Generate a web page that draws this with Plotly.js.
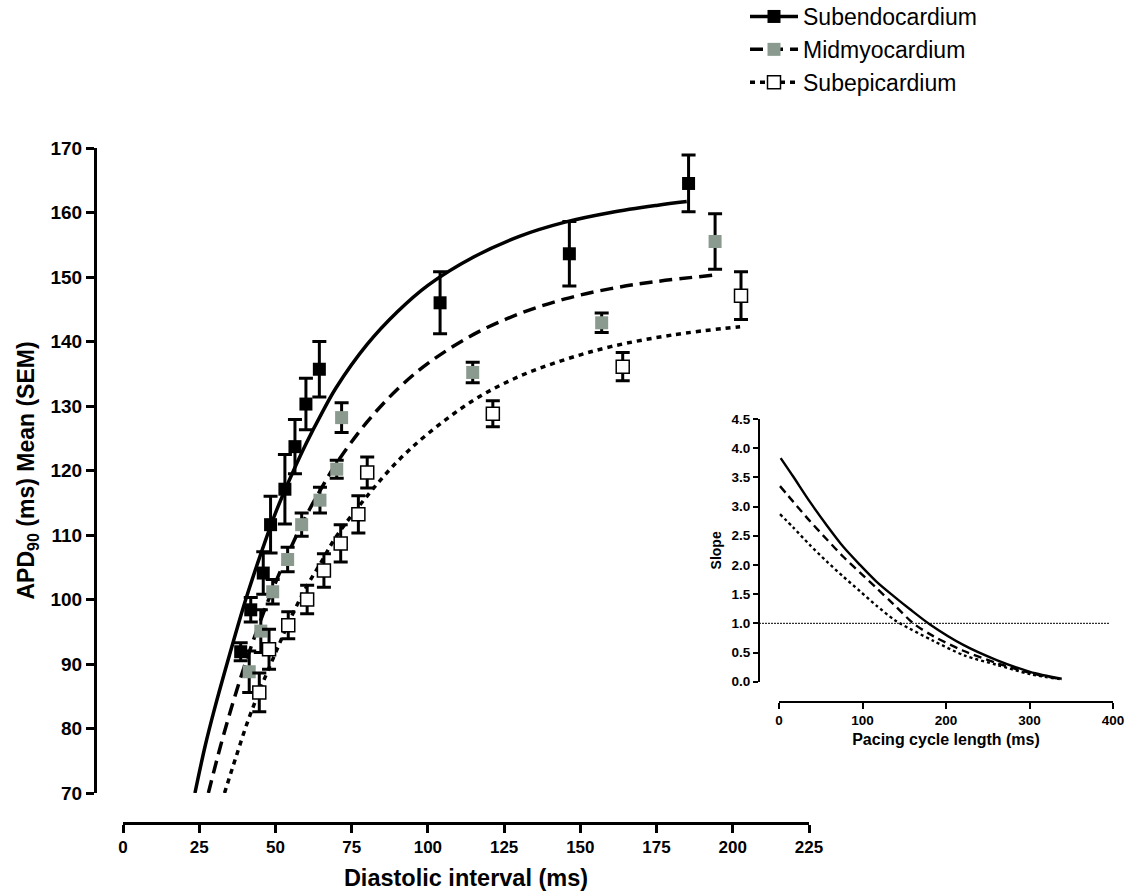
<!DOCTYPE html>
<html><head><meta charset="utf-8">
<script src="https://cdn.plot.ly/plotly-3.0.1.min.js"></script>
<style>html,body{margin:0;padding:0;background:#fff}#chart{width:1138px;height:895px}</style>
</head><body><div id="chart"></div>
<script>
// ---- Main panel: measured points (mean, SEM) ----
const endoDI  = [38.6, 41.9, 46.0, 48.4, 53.1, 56.4, 60.0, 64.4, 104.0, 146.4, 185.5];
const endoAPD = [91.9, 98.4, 104.1, 111.6, 117.1, 123.7, 130.3, 135.7, 146.0, 153.6, 164.5];
const endoSEM = [1.4, 1.9, 3.3, 4.4, 5.4, 4.2, 4.0, 4.3, 4.8, 5.0, 4.4];

const midDI  = [41.4, 45.2, 49.1, 54.0, 58.6, 64.6, 70.1, 71.7, 114.7, 157.0, 194.2];
const midAPD = [88.8, 95.1, 101.2, 106.2, 111.6, 115.4, 120.2, 128.2, 135.2, 142.9, 155.5];
const midSEM = [3.2, 3.3, 1.9, 1.9, 1.8, 2.0, 1.4, 2.3, 1.6, 1.5, 4.3];

const epiDI  = [44.7, 47.9, 54.2, 60.4, 65.9, 71.4, 77.2, 80.1, 121.3, 163.9, 202.7];
const epiAPD = [85.6, 92.3, 96.0, 100.0, 104.5, 108.7, 113.2, 119.7, 128.8, 136.1, 147.1];
const epiSEM = [3.0, 3.1, 2.1, 2.2, 2.6, 2.9, 2.9, 2.4, 2.0, 2.2, 3.7];

// ---- Main panel: fitted restitution curves ----
const endoFitDI  = [23.6, 27, 30, 35, 40, 45, 50, 55, 60, 65, 70, 80, 90, 100, 115, 130, 145, 160, 175, 184.9];
const endoFitAPD = [70, 77.4, 83.0, 91.5, 99.6, 106.8, 113.4, 119.0, 124.1, 128.7, 132.9, 139.5, 144.6, 148.7, 153.1, 156.3, 158.5, 160.0, 161.1, 161.7];
const midFitDI   = [28, 32, 36, 40, 45, 50, 55, 60, 65, 70, 80, 90, 100, 115, 130, 145, 160, 175, 194];
const midFitAPD  = [70, 77.3, 83.9, 89.9, 96.6, 102.6, 108.0, 112.9, 117.2, 121.1, 127.5, 132.6, 136.6, 141.1, 144.3, 146.6, 148.2, 149.3, 150.3];
const epiFitDI   = [33.3, 37, 41, 45, 50, 55, 60, 65, 70, 80, 90, 100, 115, 130, 145, 160, 180, 202.4];
const epiFitAPD  = [70, 75.5, 81.2, 86.1, 91.7, 97.1, 101.8, 105.8, 109.8, 116.0, 121.4, 125.7, 130.9, 134.6, 137.2, 139.2, 141.0, 142.3];

// ---- Inset: slope vs pacing cycle length ----
const endoPCL   = [2, 17.2, 37.1, 57.1, 77, 97, 117, 136.9, 156.9, 180.8, 220.7, 260.7, 300.6, 338.5];
const endoSlope = [3.83, 3.51, 3.08, 2.68, 2.31, 2.0, 1.71, 1.47, 1.24, 0.98, 0.63, 0.37, 0.17, 0.05];
const midPCL    = [1.2, 17.2, 37.1, 57.1, 77, 97, 117, 137, 160.8, 184.8, 220.7, 260.7, 300.6, 338.5];
const midSlope  = [3.35, 3.08, 2.75, 2.44, 2.14, 1.87, 1.60, 1.33, 1.0, 0.78, 0.53, 0.32, 0.15, 0.04];
const epiPCL    = [1.2, 17.2, 37.1, 57.1, 77, 97, 117, 137, 146, 184.8, 222, 260.7, 300.6, 338.5];
const epiSlope  = [2.87, 2.64, 2.34, 2.06, 1.80, 1.55, 1.30, 1.07, 0.99, 0.70, 0.45, 0.29, 0.13, 0.04];
const slopeThreshold = 1.0;

// ---- Labels ----
const seriesNames = ['Subendocardium', 'Midmyocardium', 'Subepicardium'];

const W = 1138, H = 895;
const px = v => v / W, py = v => 1 - v / H;

const BLACK = '#000000', GREY = '#8a9a8e', WHITE = '#ffffff';
const dashMain = ['solid', '13px,7px', '5px,5px'];
const dashInset = ['solid', '8px,5px', '3px,3px'];
const markerStyles = [
  {symbol: 'square', size: 13, color: BLACK, line: {color: BLACK, width: 0}},
  {symbol: 'square', size: 13, color: GREY, line: {color: GREY, width: 0}},
  {symbol: 'square', size: 13, color: WHITE, line: {color: BLACK, width: 1.5}}
];

const fits = [[endoFitDI, endoFitAPD], [midFitDI, midFitAPD], [epiFitDI, epiFitAPD]];
const pts = [[endoDI, endoAPD, endoSEM], [midDI, midAPD, midSEM], [epiDI, epiAPD, epiSEM]];
const inset = [[endoPCL, endoSlope], [midPCL, midSlope], [epiPCL, epiSlope]];

const traces = [];
fits.forEach((f, i) => traces.push({
  x: f[0], y: f[1], xaxis: 'x', yaxis: 'y', mode: 'lines', showlegend: false, hoverinfo: 'skip',
  line: {color: BLACK, width: 3.5, dash: dashMain[i], shape: 'spline', smoothing: 1}
}));
pts.forEach((p, i) => traces.push({
  x: p[0], y: p[1], xaxis: 'x', yaxis: 'y', mode: 'markers', showlegend: false, cliponaxis: false,
  marker: markerStyles[i],
  error_y: {type: 'data', array: p[2], visible: true, color: BLACK, thickness: 3, width: 7}
}));
seriesNames.forEach((n, i) => traces.push({
  x: [null], y: [null], xaxis: 'x', yaxis: 'y', mode: 'lines+markers', name: n, legendgroup: 'g' + i,
  line: {color: BLACK, width: 3.5, dash: dashMain[i]}, marker: markerStyles[i]
}));
inset.forEach((c, i) => traces.push({
  x: c[0], y: c[1], xaxis: 'x2', yaxis: 'y2', mode: 'lines', showlegend: false, hoverinfo: 'skip',
  line: {color: BLACK, width: 2.4, dash: dashInset[i], shape: 'spline', smoothing: 0.8}
}));

const FONT = 'Liberation Sans, Arial, sans-serif';
const insetFont = {family: FONT, size: 13.5, color: BLACK, weight: 'bold'};

const layout = {
  width: W, height: H,
  margin: {l: 0, r: 0, t: 0, b: 0, pad: 0, autoexpand: false},
  paper_bgcolor: WHITE, plot_bgcolor: 'rgba(0,0,0,0)',
  showlegend: true,
  legend: {
    x: px(745), y: py(-5), xanchor: 'left', yanchor: 'top',
    font: {family: FONT, size: 23, color: BLACK},
    traceorder: 'grouped', tracegroupgap: 0, itemwidth: 48,
    bgcolor: 'rgba(0,0,0,0)', borderwidth: 0
  },
  xaxis: {
    domain: [px(123), px(809)], range: [0, 225], anchor: 'free', position: py(823),
    tickmode: 'linear', tick0: 0, dtick: 25, ticks: 'outside', ticklen: 8, tickwidth: 3, tickcolor: BLACK,
    showline: true, linewidth: 3, linecolor: BLACK, showgrid: false, zeroline: false, automargin: false,
    tickfont: {family: FONT, size: 17, color: BLACK, weight: 'bold'},
    title: {text: 'Diastolic interval (ms)', font: {family: FONT, size: 23.5, color: BLACK, weight: 'bold'}, standoff: 13}
  },
  yaxis: {
    domain: [py(793), py(148)], range: [70, 170], anchor: 'free', position: px(95),
    tickmode: 'linear', tick0: 70, dtick: 10, ticks: 'outside', ticklen: 8, tickwidth: 3, tickcolor: BLACK,
    showline: true, linewidth: 3, linecolor: BLACK, showgrid: false, zeroline: false, automargin: false,
    tickfont: {family: FONT, size: 19, color: BLACK, weight: 'bold'},
    title: {text: 'APD<sub>90</sub> (ms) Mean (SEM)', font: {family: FONT, size: 23, color: BLACK, weight: 'bold'}, standoff: 8}
  },
  xaxis2: {
    domain: [px(779), px(1113)], range: [0, 400], anchor: 'free', position: py(702),
    tickmode: 'linear', tick0: 0, dtick: 100, ticks: 'outside', ticklen: 6, tickwidth: 2, tickcolor: BLACK,
    showline: true, linewidth: 2, linecolor: BLACK, showgrid: false, zeroline: false, automargin: false,
    tickfont: insetFont,
    title: {text: 'Pacing cycle length (ms)', font: {family: FONT, size: 16, color: BLACK, weight: 'bold'}, standoff: 6}
  },
  yaxis2: {
    domain: [py(681.7), py(419)], range: [0, 4.5], anchor: 'free', position: px(759),
    tickmode: 'linear', tick0: 0, dtick: 0.5, tickformat: '.1f', ticks: 'outside', ticklen: 5, tickwidth: 2, tickcolor: BLACK,
    showline: true, linewidth: 2, linecolor: BLACK, showgrid: false, zeroline: false, automargin: false,
    tickfont: insetFont,
    title: {text: 'Slope', font: {family: FONT, size: 14, color: BLACK, weight: 'bold'}, standoff: 6}
  },
  shapes: [{
    type: 'line', xref: 'paper', yref: 'y2', x0: px(759), x1: px(1110), y0: slopeThreshold, y1: slopeThreshold,
    line: {color: BLACK, width: 1, dash: '2px,1px'}
  }]
};

Plotly.newPlot('chart', traces, layout, {displayModeBar: false, responsive: false});
</script>
</body></html>
